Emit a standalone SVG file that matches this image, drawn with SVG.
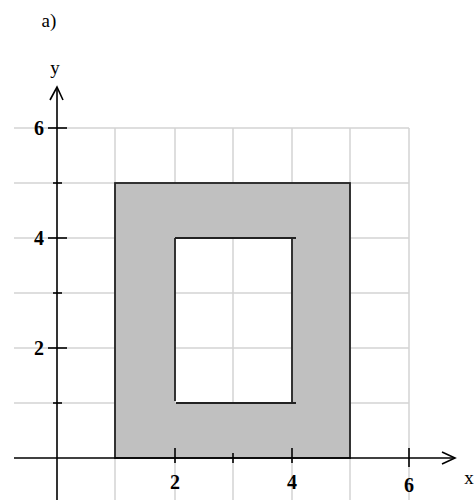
<svg xmlns="http://www.w3.org/2000/svg" width="475" height="500" viewBox="0 0 475 500">
<style>
.grid{stroke:#d3d3d3;stroke-width:1.5;fill:none}
.ax{stroke:#000;stroke-width:1.6;fill:none}
.edge{stroke:#222;stroke-width:1.8;fill:none}
.num{font-family:"Liberation Serif","Times New Roman",serif;font-weight:bold;font-size:20px;fill:#000}
.lbl{font-family:"Liberation Serif","Times New Roman",serif;font-size:19px;fill:#000}
</style>
<rect width="475" height="500" fill="#fff"/>
<g id="grid" class="grid">
<line x1="14" y1="128" x2="409" y2="128"/>
<line x1="14" y1="183" x2="409" y2="183"/>
<line x1="14" y1="238" x2="409" y2="238"/>
<line x1="14" y1="293" x2="409" y2="293"/>
<line x1="14" y1="348" x2="409" y2="348"/>
<line x1="14" y1="403" x2="409" y2="403"/>
<line x1="115" y1="128" x2="115" y2="500"/>
<line x1="175" y1="128" x2="175" y2="500"/>
<line x1="233" y1="128" x2="233" y2="500"/>
<line x1="292" y1="128" x2="292" y2="500"/>
<line x1="350" y1="128" x2="350" y2="500"/>
<line x1="409" y1="128" x2="409" y2="500"/>
</g>
<g id="shape">
<path d="M115 183H350V458H115Z M175 238V403H292V238Z" fill="#c0c0c0" fill-rule="evenodd"/>
<rect x="115" y="183" width="235" height="275" class="edge"/>
<line x1="175" y1="238" x2="296" y2="238" class="edge"/>
<line x1="175" y1="238" x2="175" y2="401" class="edge"/>
<line x1="292" y1="238" x2="292" y2="403" class="edge"/>
<line x1="176" y1="403" x2="296" y2="403" class="edge"/>
</g>
<g id="axes" class="ax">
<line x1="14" y1="458" x2="455" y2="458"/>
<line x1="57" y1="88" x2="57" y2="500"/>
<polyline points="442,452 455,458 442,464"/>
<polyline points="50,100 57,87 63,100"/>
<line x1="48" y1="128" x2="67" y2="128"/>
<line x1="53" y1="183" x2="62" y2="183"/>
<line x1="48" y1="238" x2="67" y2="238"/>
<line x1="53" y1="293" x2="62" y2="293"/>
<line x1="48" y1="348" x2="67" y2="348"/>
<line x1="53" y1="403" x2="62" y2="403"/>
<line x1="175" y1="448" x2="175" y2="463"/>
<line x1="233" y1="453" x2="233" y2="463"/>
<line x1="292" y1="448" x2="292" y2="463"/>
<line x1="409" y1="448" x2="409" y2="467"/>
</g>
<g id="labels">
<text x="49" y="27" class="lbl" text-anchor="middle">a)</text>
<text x="55" y="74" class="lbl" text-anchor="middle">y</text>
<text x="469" y="484" class="lbl" text-anchor="middle">x</text>
<text x="39" y="135" class="num" text-anchor="middle">6</text>
<text x="39" y="245" class="num" text-anchor="middle">4</text>
<text x="39" y="355" class="num" text-anchor="middle">2</text>
<text x="175" y="489" class="num" text-anchor="middle">2</text>
<text x="292" y="489" class="num" text-anchor="middle">4</text>
<text x="409" y="492" class="num" text-anchor="middle">6</text>
</g>
</svg>
